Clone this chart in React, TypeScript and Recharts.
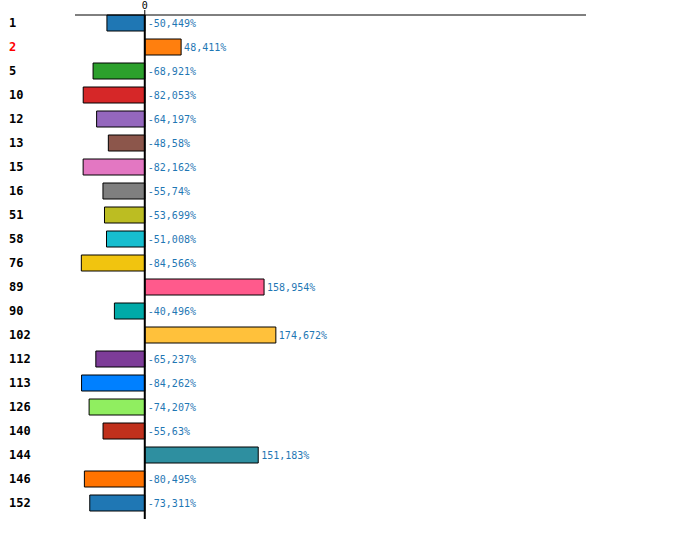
import React from 'react';
import { BarChart, Bar, XAxis, YAxis, ReferenceLine, LabelList, Cell } from 'recharts';

const categories = ['1', '2', '5', '10', '12', '13', '15', '16', '51', '58', '76', '89', '90', '102', '112', '113', '126', '140', '144', '146', '152'];
const values = [-50.449, 48.411, -68.921, -82.053, -64.197, -48.58, -82.162, -55.74, -53.699, -51.008, -84.566, 158.954, -40.496, 174.672, -65.237, -84.262, -74.207, -55.63, 151.183, -80.495, -73.311];
const barColors = ['#1f77b4', '#ff7f0e', '#2ca02c', '#d62728', '#9467bd', '#8c564b', '#e377c2', '#7f7f7f', '#bcbd22', '#17becf', '#f1c40f', '#ff5a8c', '#00aaa8', '#ffc13b', '#7d3c98', '#0080ff', '#90ee60', '#c0301c', '#2e8fa0', '#ff7300', '#1f77b4'];
const highlighted = ['2'];
const xTicks = [0];

const data = categories.map((name, i) => ({ name, value: values[i] }));

const MONO = '"DejaVu Sans Mono", "Liberation Mono", monospace';

const formatPct = (v: number) => String(v).replace('.', ',') + '%';

const CategoryTick = (props: any) => {
    const { y, payload } = props;
    const isRed = highlighted.includes(payload.value);
    return (
        <text x={9} y={y} dy={4} fontFamily={MONO} fontSize={12} fontWeight="bold" fill={isRed ? '#ff0000' : '#000'}>
            {payload.value}
        </text>
    );
};

const ValueLabel = (props: any) => {
    const { x, y, width, height, value } = props;
    const right = Math.max(x, x + width);
    return (
        <text x={right + 3} y={y + height / 2} dy={4} fontFamily={MONO} fontSize={10} fill="#1f77b4">
            {formatPct(value)}
        </text>
    );
};

export default function App() {
    return (
        <div style={{ position: 'absolute', left: 0, top: 0, background: '#fff' }}>
            <BarChart
                width={700}
                height={549}
                data={data}
                layout="vertical"
                margin={{ top: 0, right: 114, left: 0, bottom: 30 }}
                barCategoryGap={4}
            >
                <XAxis
                    type="number"
                    orientation="top"
                    domain={[-93, 588]}
                    ticks={xTicks}
                    height={15}
                    tickSize={5}
                    tickMargin={1}
                    stroke="#000"
                    tick={{ fontFamily: MONO, fontSize: 10, fill: '#000' }}
                    allowDataOverflow
                />
                <YAxis
                    type="category"
                    dataKey="name"
                    width={75}
                    axisLine={false}
                    tickLine={false}
                    tick={<CategoryTick />}
                    interval={0}
                    padding={{ top: -4, bottom: 4 }}
                />
                <Bar dataKey="value" stroke="#000" strokeWidth={1} isAnimationActive={false}>
                    {data.map((d, i) => (
                        <Cell key={d.name} fill={barColors[i]} />
                    ))}
                    <LabelList dataKey="value" content={<ValueLabel />} />
                </Bar>
                <ReferenceLine x={0} stroke="#000" strokeWidth={2} />
            </BarChart>
        </div>
    );
}
